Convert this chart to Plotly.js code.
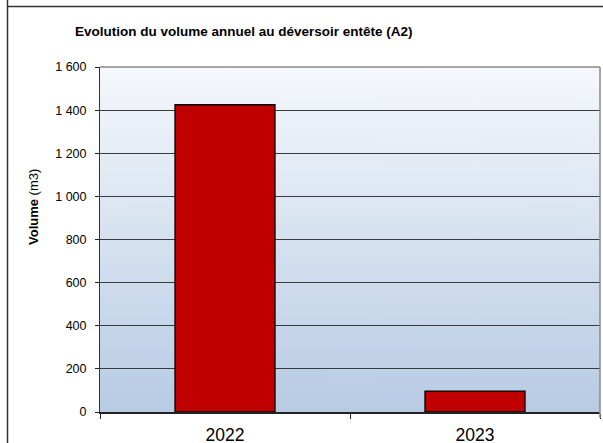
<!DOCTYPE html>
<html>
<head>
<meta charset="utf-8">
<script src="https://cdn.plot.ly/plotly-3.0.1.min.js"></script>
<style>html,body{margin:0;padding:0;background:#fff;}#chart{width:603px;height:443px;}</style>
</head>
<body>
<div id="chart"></div>
<script>
const years = ['2022', '2023'];
const volumes = [1425, 97];
const yTicks = [0, 200, 400, 600, 800, 1000, 1200, 1400, 1600];

// gradient background image for plot area
const cv = document.createElement('canvas');
cv.width = 10; cv.height = 200;
const ctx = cv.getContext('2d');
const g = ctx.createLinearGradient(0, 0, 0, 200);
g.addColorStop(0, '#f5f8fc');
g.addColorStop(1, '#b7cbe4');
ctx.fillStyle = g;
ctx.fillRect(0, 0, 10, 200);
const bgURL = cv.toDataURL('image/png');

const W = 603, H = 443, ml = 100, mr = 3, mt = 67, mb = 31;
const pw = W - ml - mr, ph = H - mt - mb;
const px = x => (x - ml) / pw;
const py = y => (H - mb - y) / ph;
const FF = 'Liberation Sans, Arial, sans-serif';

const trace = {
  type: 'bar',
  x: years,
  y: volumes,
  marker: {color: '#c00000', line: {color: '#000000', width: 1.3}},
  hoverinfo: 'x+y'
};

const layout = {
  width: W, height: H,
  margin: {l: ml, r: mr, t: mt, b: mb},
  paper_bgcolor: '#ffffff',
  plot_bgcolor: 'rgba(0,0,0,0)',
  separators: ', ',
  font: {family: FF, color: '#000'},
  bargap: 0.6,
  showlegend: false,
  title: {
    text: '<b>Evolution du volume annuel au déversoir entête (A2)</b>',
    font: {size: 13.5, family: FF, color: '#000'},
    xref: 'container', yref: 'container',
    x: 75 / W, xanchor: 'left',
    y: 1 - 31 / H, yanchor: 'middle'
  },
  xaxis: {
    type: 'category',
    range: [-0.5, 1.5],
    tickson: 'boundaries',
    ticks: 'outside', ticklen: 5, tickwidth: 1, tickcolor: '#222',
    showline: true, linecolor: '#222', linewidth: 1.5,
    showgrid: false, zeroline: false,
    ticklabelstandoff: 6,
    automargin: false,
    tickfont: {size: 17.5, family: FF, color: '#000'},
    fixedrange: true
  },
  yaxis: {
    range: [0, 1600],
    tickvals: yTicks,
    tickformat: ',d',
    ticks: 'outside', ticklen: 4, tickwidth: 1, tickcolor: '#222',
    showline: true, linecolor: '#333', linewidth: 1,
    showgrid: true, gridcolor: '#3a3a3a', gridwidth: 1,
    zeroline: false,
    ticklabelstandoff: 6,
    automargin: false,
    tickfont: {size: 12.5, family: FF, color: '#000'},
    fixedrange: true
  },
  images: [{
    source: bgURL, xref: 'paper', yref: 'paper',
    x: 0, y: 1, sizex: 1, sizey: 1, sizing: 'stretch',
    xanchor: 'left', yanchor: 'top', layer: 'below'
  }],
  shapes: [
    {type: 'line', xref: 'paper', yref: 'paper', x0: 0, x1: 1, y0: 1, y1: 1, line: {color: '#8a8a8a', width: 1.5}},
    {type: 'line', xref: 'paper', yref: 'paper', x0: 1, x1: 1, y0: py(418), y1: 1, line: {color: '#8a8a8a', width: 1.5}},
    {type: 'line', xref: 'paper', yref: 'paper', x0: px(7.5), x1: px(7.5), y0: py(0), y1: py(443), line: {color: '#333', width: 1.5}},
    {type: 'line', xref: 'paper', yref: 'paper', x0: px(7.5), x1: px(603), y0: py(6.5), y1: py(6.5), line: {color: '#333', width: 1.5}}
  ],
  annotations: [{
    text: '<b>Volume</b> (m3)',
    xref: 'paper', yref: 'paper',
    x: px(33), y: py(207), xanchor: 'center', yanchor: 'middle',
    textangle: -90, showarrow: false,
    font: {size: 13, family: FF, color: '#000'}
  }]
};

Plotly.newPlot('chart', [trace], layout, {displayModeBar: false, staticPlot: true});
</script>
</body>
</html>
